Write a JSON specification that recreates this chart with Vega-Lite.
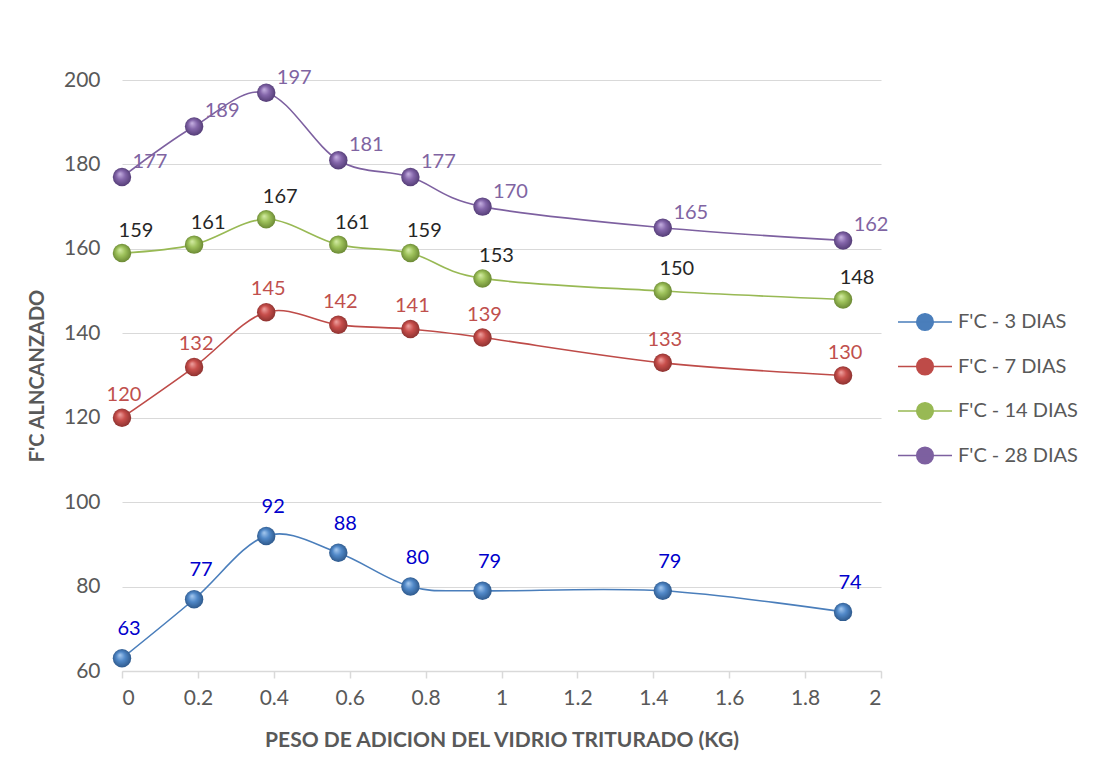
{
  "$schema": "https://vega.github.io/schema/vega-lite/v6.json",
  "width": 759,
  "height": 591,
  "autosize": "none",
  "padding": {"left": 122, "top": 80, "right": 212, "bottom": 89},
  "background": "white",
  "config": {
    "font": "Lato",
    "view": {"stroke": null},
    "axis": {"labelFont": "Lato", "titleFont": "Lato", "labelColor": "#595959", "titleColor": "#595959"}
  },
  "data": {
    "values": [
      {"serie": "F'C - 3 DIAS", "peso": 0, "fc": 63},
      {"serie": "F'C - 3 DIAS", "peso": 0.19, "fc": 77},
      {"serie": "F'C - 3 DIAS", "peso": 0.38, "fc": 92},
      {"serie": "F'C - 3 DIAS", "peso": 0.57, "fc": 88},
      {"serie": "F'C - 3 DIAS", "peso": 0.76, "fc": 80},
      {"serie": "F'C - 3 DIAS", "peso": 0.95, "fc": 79},
      {"serie": "F'C - 3 DIAS", "peso": 1.425, "fc": 79},
      {"serie": "F'C - 3 DIAS", "peso": 1.9, "fc": 74},
      {"serie": "F'C - 7 DIAS", "peso": 0, "fc": 120},
      {"serie": "F'C - 7 DIAS", "peso": 0.19, "fc": 132},
      {"serie": "F'C - 7 DIAS", "peso": 0.38, "fc": 145},
      {"serie": "F'C - 7 DIAS", "peso": 0.57, "fc": 142},
      {"serie": "F'C - 7 DIAS", "peso": 0.76, "fc": 141},
      {"serie": "F'C - 7 DIAS", "peso": 0.95, "fc": 139},
      {"serie": "F'C - 7 DIAS", "peso": 1.425, "fc": 133},
      {"serie": "F'C - 7 DIAS", "peso": 1.9, "fc": 130},
      {"serie": "F'C - 14 DIAS", "peso": 0, "fc": 159},
      {"serie": "F'C - 14 DIAS", "peso": 0.19, "fc": 161},
      {"serie": "F'C - 14 DIAS", "peso": 0.38, "fc": 167},
      {"serie": "F'C - 14 DIAS", "peso": 0.57, "fc": 161},
      {"serie": "F'C - 14 DIAS", "peso": 0.76, "fc": 159},
      {"serie": "F'C - 14 DIAS", "peso": 0.95, "fc": 153},
      {"serie": "F'C - 14 DIAS", "peso": 1.425, "fc": 150},
      {"serie": "F'C - 14 DIAS", "peso": 1.9, "fc": 148},
      {"serie": "F'C - 28 DIAS", "peso": 0, "fc": 177},
      {"serie": "F'C - 28 DIAS", "peso": 0.19, "fc": 189},
      {"serie": "F'C - 28 DIAS", "peso": 0.38, "fc": 197},
      {"serie": "F'C - 28 DIAS", "peso": 0.57, "fc": 181},
      {"serie": "F'C - 28 DIAS", "peso": 0.76, "fc": 177},
      {"serie": "F'C - 28 DIAS", "peso": 0.95, "fc": 170},
      {"serie": "F'C - 28 DIAS", "peso": 1.425, "fc": 165},
      {"serie": "F'C - 28 DIAS", "peso": 1.9, "fc": 162}
    ]
  },
  "encoding": {
    "x": {
      "field": "peso", "type": "quantitative",
      "scale": {"domain": [0, 2], "nice": false, "zero": false},
      "axis": {
        "title": "PESO DE ADICION DEL VIDRIO TRITURADO (KG)",
        "values": [0, 0.2, 0.4, 0.6, 0.8, 1, 1.2, 1.4, 1.6, 1.8, 2],
        "format": "~g",
        "grid": false,
        "domainColor": "#d9d9d9", "domainWidth": 1.5,
        "tickColor": "#d9d9d9", "tickSize": 7, "tickWidth": 1.5,
        "labelFontSize": 21, "labelPadding": 9,
        "titleFontSize": 21, "titleFontWeight": "bold", "titlePadding": 21
      }
    },
    "y": {
      "field": "fc", "type": "quantitative",
      "scale": {"domain": [60, 200], "nice": false, "zero": false},
      "axis": {
        "title": "F'C ALNCANZADO",
        "values": [60, 80, 100, 120, 140, 160, 180, 200],
        "domain": false, "ticks": false,
        "gridColor": "#d9d9d9", "gridWidth": 1.2,
        "labelFontSize": 21, "labelPadding": 22,
        "titleFontSize": 20, "titleFontWeight": "bold", "titlePadding": 16
      }
    }
  },
  "layer": [
    {
      "mark": {"type": "line", "interpolate": "cardinal", "strokeWidth": 1.6},
      "encoding": {
        "color": {
          "field": "serie", "type": "nominal",
          "scale": {
            "domain": ["F'C - 3 DIAS", "F'C - 7 DIAS", "F'C - 14 DIAS", "F'C - 28 DIAS"],
            "range": ["#4A7EBB", "#BE4B48", "#98B954", "#7D60A0"]
          },
          "legend": {
            "title": null,
            "orient": "none",
            "legendX": 787,
            "legendY": 226,
            "padding": 0,
            "symbolType": "M-1.8,0L1.8,0M-0.55,0A0.55,0.55,0,1,1,0.55,0A0.55,0.55,0,1,1,-0.55,0Z",
            "symbolSize": 900,
            "symbolStrokeWidth": 1.6,
            "labelFontSize": 20,
            "labelColor": "#595959",
            "labelFont": "Lato",
            "labelOffset": 17,
            "rowPadding": 16.5,
            "encode": {
              "symbols": {
                "update": {
                  "fill": {"scale": "color", "field": "value"},
                  "fillOpacity": {"value": 1}
                }
              }
            }
          }
        }
      }
    },
    {
      "transform": [{"filter": "datum.serie === \"F'C - 3 DIAS\""}],
      "mark": {"type": "point", "shape": "circle", "size": 340, "opacity": 1, "strokeWidth": 0,
        "fill": {"gradient": "radial", "x1": 0.38, "y1": 0.32, "r1": 0, "x2": 0.5, "y2": 0.5, "r2": 0.55,
          "stops": [{"offset": 0, "color": "#A9CBF0"}, {"offset": 0.45, "color": "#5088C8"}, {"offset": 1, "color": "#2A5384"}]}},
      "encoding": {}
    },
    {
      "transform": [{"filter": "datum.serie === \"F'C - 7 DIAS\""}],
      "mark": {"type": "point", "shape": "circle", "size": 340, "opacity": 1, "strokeWidth": 0,
        "fill": {"gradient": "radial", "x1": 0.38, "y1": 0.32, "r1": 0, "x2": 0.5, "y2": 0.5, "r2": 0.55,
          "stops": [{"offset": 0, "color": "#F0A5A3"}, {"offset": 0.45, "color": "#C84E4B"}, {"offset": 1, "color": "#862F2D"}]}},
      "encoding": {}
    },
    {
      "transform": [{"filter": "datum.serie === \"F'C - 14 DIAS\""}],
      "mark": {"type": "point", "shape": "circle", "size": 340, "opacity": 1, "strokeWidth": 0,
        "fill": {"gradient": "radial", "x1": 0.38, "y1": 0.32, "r1": 0, "x2": 0.5, "y2": 0.5, "r2": 0.55,
          "stops": [{"offset": 0, "color": "#D6EDA8"}, {"offset": 0.45, "color": "#9DC15A"}, {"offset": 1, "color": "#64812F"}]}},
      "encoding": {}
    },
    {
      "transform": [{"filter": "datum.serie === \"F'C - 28 DIAS\""}],
      "mark": {"type": "point", "shape": "circle", "size": 340, "opacity": 1, "strokeWidth": 0,
        "fill": {"gradient": "radial", "x1": 0.38, "y1": 0.32, "r1": 0, "x2": 0.5, "y2": 0.5, "r2": 0.55,
          "stops": [{"offset": 0, "color": "#C8B3E3"}, {"offset": 0.45, "color": "#8466AA"}, {"offset": 1, "color": "#4E3870"}]}},
      "encoding": {}
    },
    {
      "transform": [{"filter": "datum.serie === \"F'C - 3 DIAS\""}],
      "mark": {"type": "text", "fontSize": 20, "dx": 7, "dy": -29, "color": "#0000CC"},
      "encoding": {"text": {"field": "fc", "type": "quantitative"}}
    },
    {
      "transform": [{"filter": "datum.serie === \"F'C - 7 DIAS\""}],
      "mark": {"type": "text", "fontSize": 20, "dx": 2, "dy": -23, "color": "#C0504D"},
      "encoding": {"text": {"field": "fc", "type": "quantitative"}}
    },
    {
      "transform": [{"filter": "datum.serie === \"F'C - 14 DIAS\""}],
      "mark": {"type": "text", "fontSize": 20, "dx": 14, "dy": -22, "color": "#262626"},
      "encoding": {"text": {"field": "fc", "type": "quantitative"}}
    },
    {
      "transform": [{"filter": "datum.serie === \"F'C - 28 DIAS\""}],
      "mark": {"type": "text", "fontSize": 20, "dx": 28, "dy": -15, "color": "#8064A2"},
      "encoding": {"text": {"field": "fc", "type": "quantitative"}}
    }
  ]
}
